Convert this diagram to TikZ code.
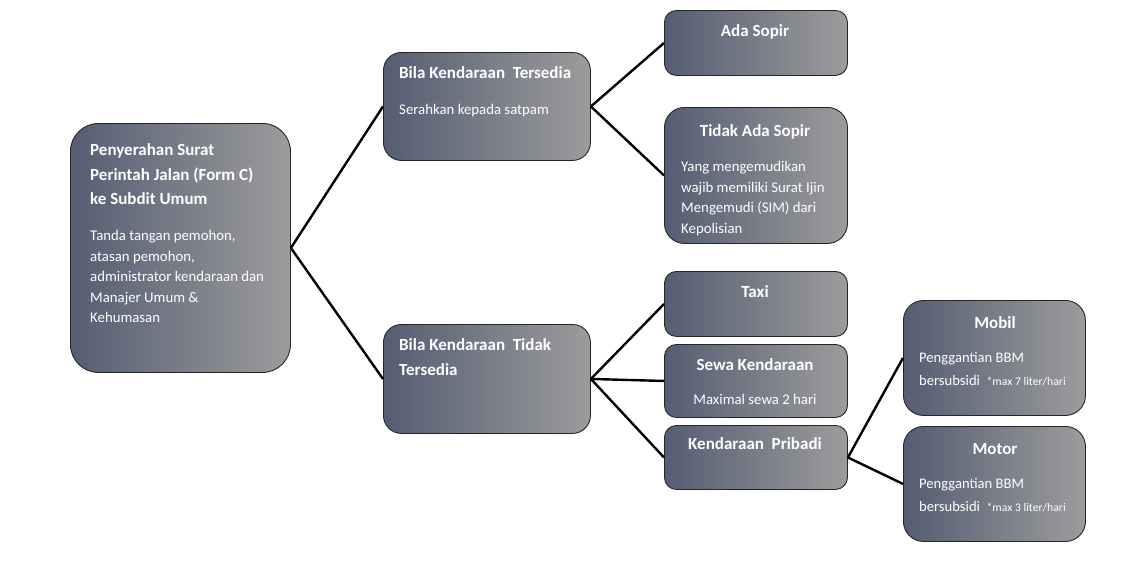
\documentclass[tikz,border=0pt]{standalone}
\usepackage{fontspec}
\setmainfont{Carlito}
\usepackage{tikz}
\definecolor{boxL}{RGB}{84,93,114}
\definecolor{boxR}{RGB}{156,156,156}

\begin{document}
\begin{tikzpicture}[x=1pt,y=-1pt,
	box/.style={draw=black!85, line width=0.9pt, rounded corners=#1, left color=boxL, right color=boxR, anchor=north west, inner sep=0pt},
	box/.default=12pt,
	head/.style={text=white, font=\fontsize{17}{24.5}\selectfont\bfseries, inner sep=0pt},
	body/.style={text=white, font=\fontsize{14.8}{20.6}\selectfont, inner sep=0pt, align=left, anchor=north west},
	small/.style={font=\fontsize{14.6}{23}\selectfont},
	link/.style={line width=2.4pt}]
\useasboundingbox (0,0) rectangle (1123,560);
% boxes
\node [box=28pt, minimum width=220pt, minimum height=249pt] (a) at (70,123) {};
\node [box=18pt, minimum width=207pt, minimum height=108pt] (b) at (383,52) {};
\node [box=18pt, minimum width=207pt, minimum height=109pt] (e) at (383,324) {};
\node [box, minimum width=183pt, minimum height=65pt] (c) at (664,10) {};
\node [box=20pt, minimum width=183pt, minimum height=136pt] (d) at (664,107) {};
\node [box, minimum width=183pt, minimum height=65pt] (f) at (664,271) {};
\node [box, minimum width=183pt, minimum height=73pt] (g) at (664,344) {};
\node [box, minimum width=183pt, minimum height=64pt] (h) at (664,425) {};
\node [box=20pt, minimum width=182pt, minimum height=115pt] (i) at (903,300) {};
\node [box=20pt, minimum width=182pt, minimum height=115pt] (j) at (903,426) {};
% texts
\node [head, align=left, anchor=north west] (a1) at (90,143.5) {Penyerahan Surat\\Perintah Jalan (Form C)\\ke Subdit Umum};
\node [body] (a2) at (90,230) {Tanda tangan pemohon,\\atasan pemohon,\\administrator kendaraan dan\\Manajer Umum \&\\Kehumasan};
\node [head, anchor=north west] (b1) at (399,66.5) {Bila Kendaraan\ \ Tersedia};
\node [body] (b2) at (399,104.5) {Serahkan kepada satpam};
\node [head, align=left, anchor=north west] (e1) at (399,338.5) {Bila Kendaraan\ \ Tidak\\Tersedia};
\node [head] (c1) at (755,32) {Ada Sopir};
\node [head] (d1) at (755,132) {Tidak Ada Sopir};
\node [body] (d2) at (681,161) {Yang mengemudikan\\wajib memiliki Surat Ijin\\Mengemudi (SIM) dari\\Kepolisian};
\node [head] (f1) at (755,292) {Taxi};
\node [head] (g1) at (755,365) {Sewa Kendaraan};
\node [body, anchor=center] (g2) at (755,399.5) {Maximal sewa 2 hari};
\node [head] (h1) at (755,444) {Kendaraan\ \ Pribadi};
\node [head] (i1) at (995,323) {Mobil};
\node [body, small] (i2) at (919,352.5) {Penggantian BBM\\bersubsidi~~{\fontsize{11.7}{11.7}\selectfont *max 7 liter/hari}};
\node [head] (j1) at (995,449) {Motor};
\node [body, small] (j2) at (919,478.5) {Penggantian BBM\\bersubsidi~~{\fontsize{11.7}{11.7}\selectfont *max 3 liter/hari}};
% connectors
\draw [link] (a.east) -- (b.west);
\draw [link] (a.east) -- (e.west);
\draw [link] (b.east) -- (c.west);
\draw [link] (b.east) -- (d.west);
\draw [link] (e.east) -- (f.west);
\draw [link] (e.east) -- (g.west);
\draw [link] (e.east) -- (h.west);
\draw [link] (h.east) -- (i.west);
\draw [link] (h.east) -- (j.west);
\end{tikzpicture}
\end{document}
